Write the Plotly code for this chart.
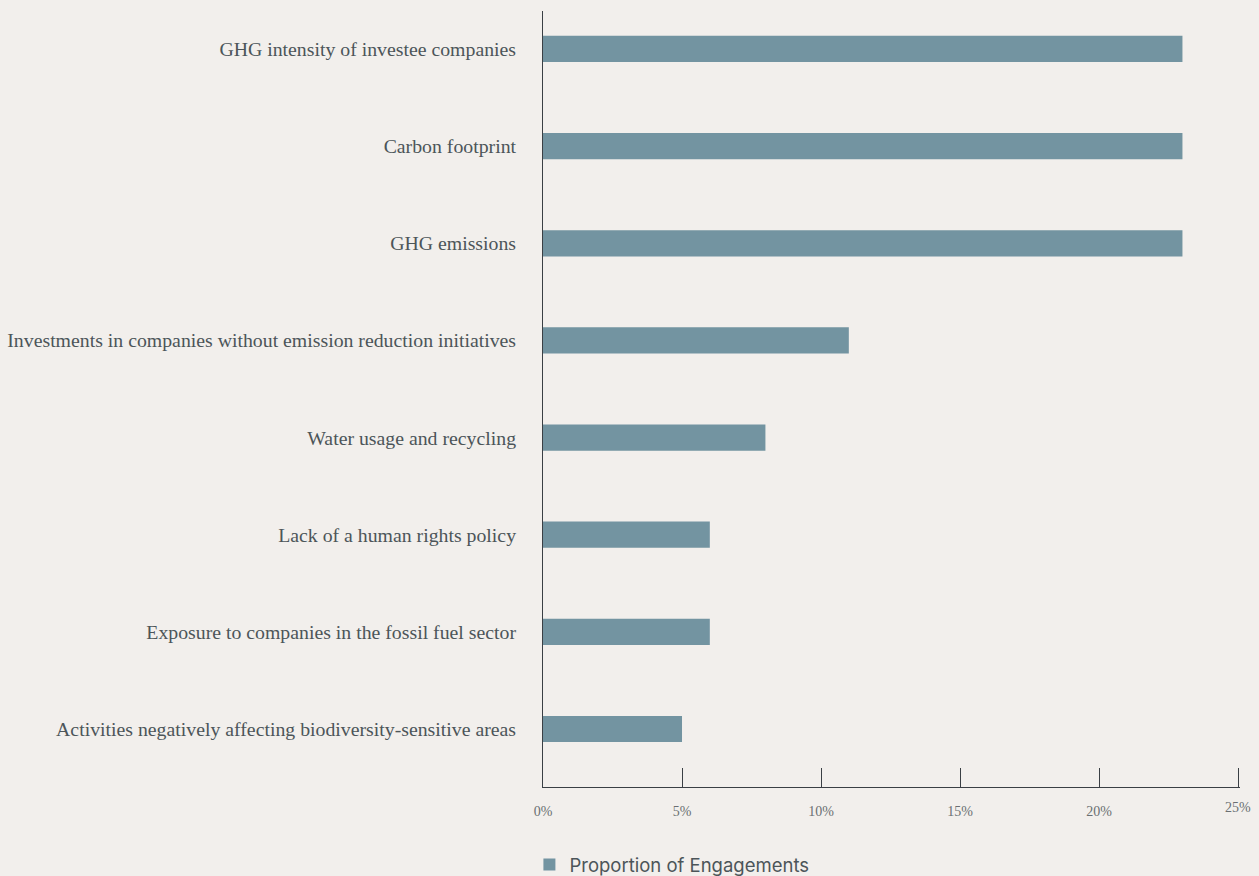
import plotly.graph_objects as go

categories = [
    "GHG intensity of investee companies",
    "Carbon footprint",
    "GHG emissions",
    "Investments in companies without emission reduction initiatives",
    "Water usage and recycling",
    "Lack of a human rights policy",
    "Exposure to companies in the fossil fuel sector",
    "Activities negatively affecting biodiversity-sensitive areas",
]
values = [23, 23, 23, 11, 8, 6, 6, 5]
series_name = "Proportion of Engagements"
x_ticks = [0, 5, 10, 15, 20, 25]
x_tick_labels = ["0%", "5%", "10%", "15%", "20%", " "]
last_tick_label = "25%"

BG = "#f2efec"
BAR = "#7394a1"
AXIS = "#3a3f44"
TXT = "#4c5559"

fig = go.Figure()
fig.add_trace(go.Bar(
    y=categories, x=values, orientation="h", name=series_name,
    marker=dict(color=BAR, line=dict(width=0)), width=0.27,
    showlegend=True, hoverinfo="x+y",
))

fig.update_layout(
    width=1259, height=876,
    paper_bgcolor=BG, plot_bgcolor=BG,
    margin=dict(l=543, r=19, t=11, b=89, autoexpand=False),
    bargap=0.73,
    showlegend=True,
    legend=dict(orientation="h", x=0.4205, xref="container", xanchor="left",
                y=0.0126, yref="container", yanchor="middle",
                font=dict(family="Inter", size=18.5, color=TXT), bgcolor="rgba(0,0,0,0)"),
    xaxis=dict(
        range=[0, 25.07], tickvals=x_ticks, ticktext=x_tick_labels,
        showgrid=False, zeroline=False,
        showline=True, linecolor=AXIS, linewidth=1,
        ticks="inside", ticklen=19, tickcolor=AXIS, tickwidth=1,
        tickfont=dict(family="Liberation Serif", size=14, color="#6a6f72"),
        ticklabelstandoff=11,
        fixedrange=True,
    ),
    yaxis=dict(
        type="category", categoryorder="array", categoryarray=categories[::-1],
        range=[-0.597, 7.391],
        showgrid=False, zeroline=False,
        showline=True, linecolor=AXIS, linewidth=1,
        ticks="", tickfont=dict(family="Liberation Serif", size=19.8, color=TXT),
        ticklabelstandoff=22,
        fixedrange=True,
    ),
    annotations=[dict(
        x=x_ticks[-1], y=0, xref="x", yref="paper", text=last_tick_label,
        showarrow=False, xanchor="center", yanchor="top", yshift=-11,
        font=dict(family="Liberation Serif", size=14, color="#6a6f72"),
    )],
)

fig.write_html("out.html")
